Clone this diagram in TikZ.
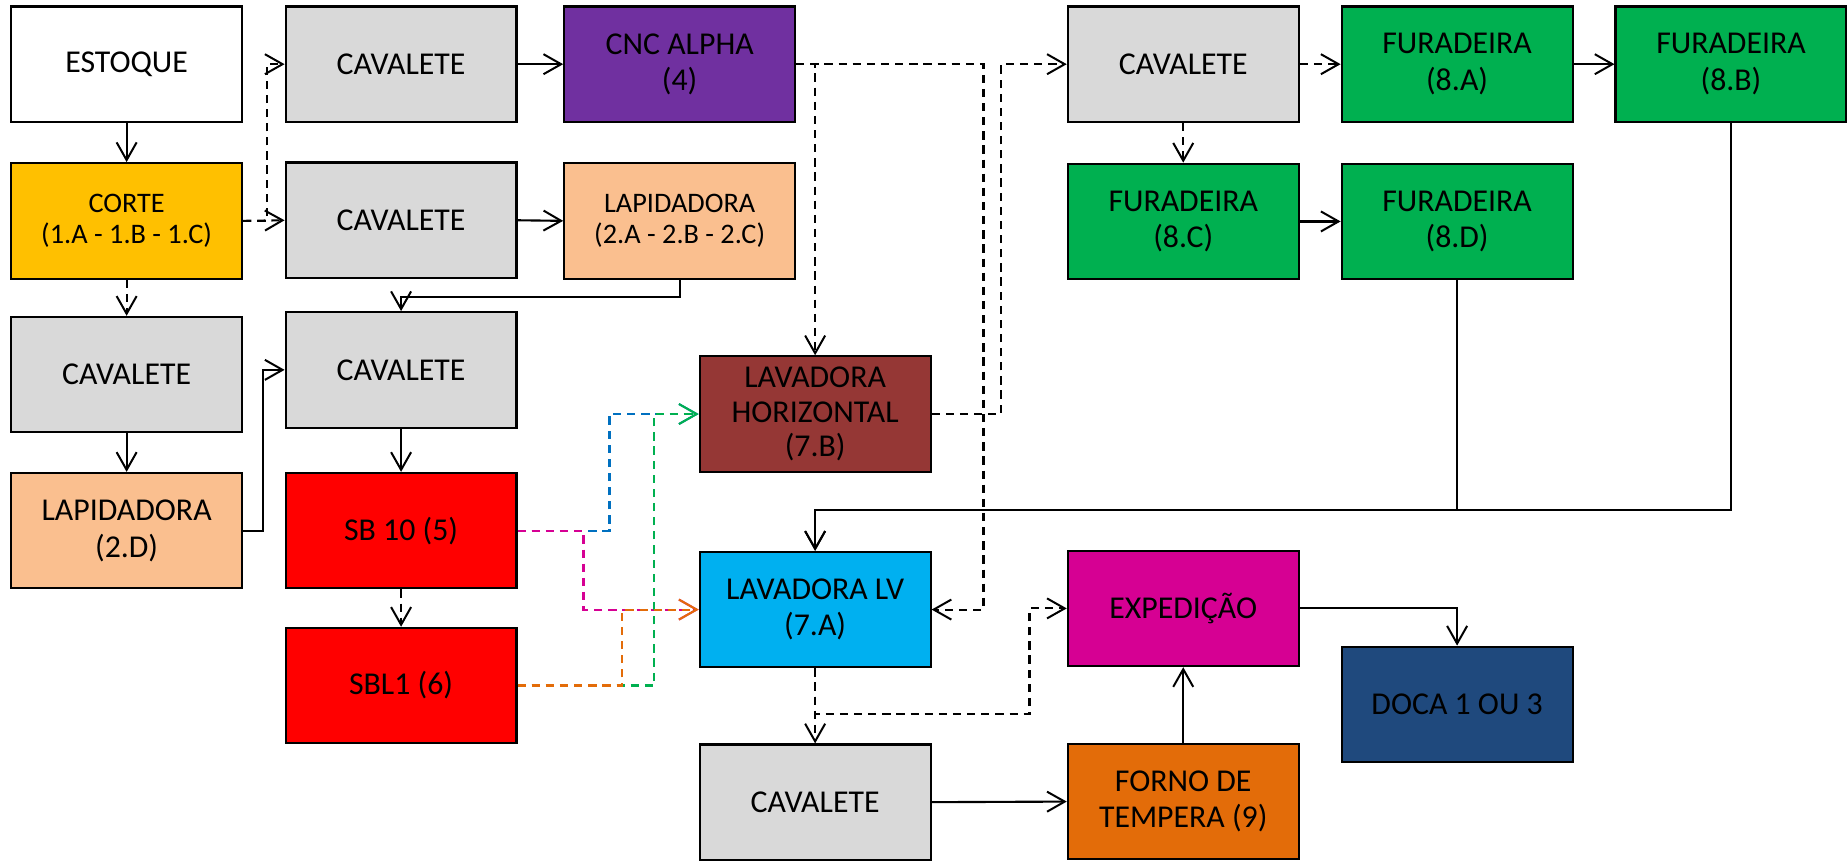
\documentclass[tikz,border=0pt]{standalone}
\usepackage{fontspec}
\setmainfont{Carlito}
\usetikzlibrary{arrows.meta,calc}
\definecolor{cgray}{HTML}{D9D9D9}
\definecolor{cpurple}{HTML}{7030A0}
\definecolor{cyellow}{HTML}{FFC000}
\definecolor{cpeach}{HTML}{FABF8F}
\definecolor{cgreen}{HTML}{00B050}
\definecolor{cbrown}{HTML}{953735}
\definecolor{ccyan}{HTML}{00B0F0}
\definecolor{cmagenta}{HTML}{D60093}
\definecolor{cred}{HTML}{FF0000}
\definecolor{cnavy}{HTML}{1F497D}
\definecolor{corange}{HTML}{E36C09}
\definecolor{lblue}{HTML}{0070C0}
\definecolor{lorange}{HTML}{E36C09}
\tikzset{
  box/.style={draw=black, line width=0.9pt, minimum width=98pt, minimum height=49pt,
    align=center, inner sep=0pt, font=\fontsize{13.5}{15.5}\selectfont},
  smalltext/.style={font=\fontsize{12}{13.3}\selectfont},
  tighttext/.style={font=\fontsize{13.5}{14.5}\selectfont},
  arr/.style={line width=0.9pt, -{Straight Barb[length=7.5pt,width=8.5pt,line width=0.85pt]}},
  darr/.style={arr, dash pattern=on 3.5pt off 2.5pt},
}
\begin{document}
\begin{tikzpicture}[x=0.5pt,y=-0.5pt]
\useasboundingbox (0,0) rectangle (1568,731);
% row 1
\node[box] (estoque) at (107.5,54.5) {ESTOQUE};
\node[box,fill=cgray] (cav1) at (340.5,54.5) {CAVALETE};
\node[box,fill=cpurple] (cnc) at (577,54.5) {CNC ALPHA\\(4)};
\node[box,fill=cgray] (cavR) at (1004.5,54.5) {CAVALETE};
\node[box,fill=cgreen] (f8a) at (1237,54.5) {FURADEIRA\\(8.A)};
\node[box,fill=cgreen] (f8b) at (1469.5,54.5) {FURADEIRA\\(8.B)};
% row 2
\node[box,smalltext,fill=cyellow] (corte) at (107.5,187.5) {CORTE\\(1.A - 1.B - 1.C)};
\node[box,fill=cgray] (cav2) at (340.5,187) {CAVALETE};
\node[box,smalltext,fill=cpeach] (lap2a) at (577,187.5) {LAPIDADORA\\(2.A - 2.B - 2.C)};
\node[box,fill=cgreen] (f8c) at (1004.5,188) {FURADEIRA\\(8.C)};
\node[box,fill=cgreen] (f8d) at (1237,188) {FURADEIRA\\(8.D)};
% row 3
\node[box,fill=cgray] (cav3L) at (107.5,318) {CAVALETE};
\node[box,fill=cgray] (cav3) at (340.5,314) {CAVALETE};
\node[box,tighttext,fill=cbrown] (lavh) at (692,351.5) {LAVADORA\\HORIZONTAL\\(7.B)};
% row 4
\node[box,fill=cpeach] (lap2d) at (107.5,450.5) {LAPIDADORA\\(2.D)};
\node[box,fill=cred] (sb10) at (340.5,450.5) {SB 10 (5)};
\node[box,fill=ccyan] (lavlv) at (692,517.5) {LAVADORA LV\\(7.A)};
\node[box,fill=cmagenta] (exped) at (1004.5,516.5) {EXPEDIÇÃO};
% row 5
\node[box,fill=cred] (sbl1) at (340.5,582) {SBL1 (6)};
\node[box,fill=cnavy] (doca) at (1237,598) {DOCA 1 OU 3};
\node[box,fill=cgray] (cavB) at (692,681) {CAVALETE};
\node[box,fill=corange] (forno) at (1004.5,680.5) {FORNO DE\\TEMPERA (9)};
\coordinate (bus) at (0,433);
% connectors
\draw[arr] (estoque.south) -- (corte.north);
\draw[darr] (corte.east) -- ++(20,0) |- (cav1.west);
\draw[darr] (corte.east) -- (cav2.west);
\draw[darr] (corte.south) -- (cav3L.north);
\draw[arr] (cav1.east) -- (cnc.west);
\draw[arr] (cav2.east) -- (lap2a.west);
\draw[arr] (lap2a.south) -- ++(0,15) -| (cav3.north);
\draw[arr] (cav3L.south) -- (lap2d.north);
\draw[arr] (lap2d.east) -- ++(17,0) |- (cav3.west);
\draw[arr] (cav3.south) -- (sb10.north);
\draw[darr] (sb10.south) -- (sbl1.north);
\draw[darr,lblue] (sb10.east) -- ++(78,0) |- (lavh.west);
\draw[darr,cmagenta] (sb10.east) -- ++(56,0) |- (lavlv.west);
\draw[darr,cgreen] (sbl1.east) -- ++(116,0) |- (lavh.west);
\draw[darr,lorange] (sbl1.east) -- ++(89,0) |- (lavlv.west);
\draw[darr] (cnc.east) -| (lavh.north);
\draw[darr] (cnc.east) -- ++(159,0) |- (lavlv.east);
\draw[darr] (lavh.east) -- ++(59,0) |- (cavR.west);
\draw[darr] (cavR.east) -- (f8a.west);
\draw[darr] (cavR.south) -- (f8c.north);
\draw[arr] (f8a.east) -- (f8b.west);
\draw[arr] (f8c.east) -- (f8d.west);
\draw[arr] (f8d.south) -- (f8d.south |- bus) -| (lavlv.north);
\draw[arr] (f8b.south) -- (f8b.south |- bus) -| (lavlv.north);
\draw[darr] (lavlv.south) -- (cavB.north);
\draw[darr] (lavlv.south) -- ++(0,39) -- ++(182,0) |- (exped.west);
\draw[arr] (cavB.east) -- (forno.west);
\draw[arr] (forno.north) -- (exped.south);
\draw[arr] (exped.east) -| (doca.north);
\end{tikzpicture}
\end{document}
